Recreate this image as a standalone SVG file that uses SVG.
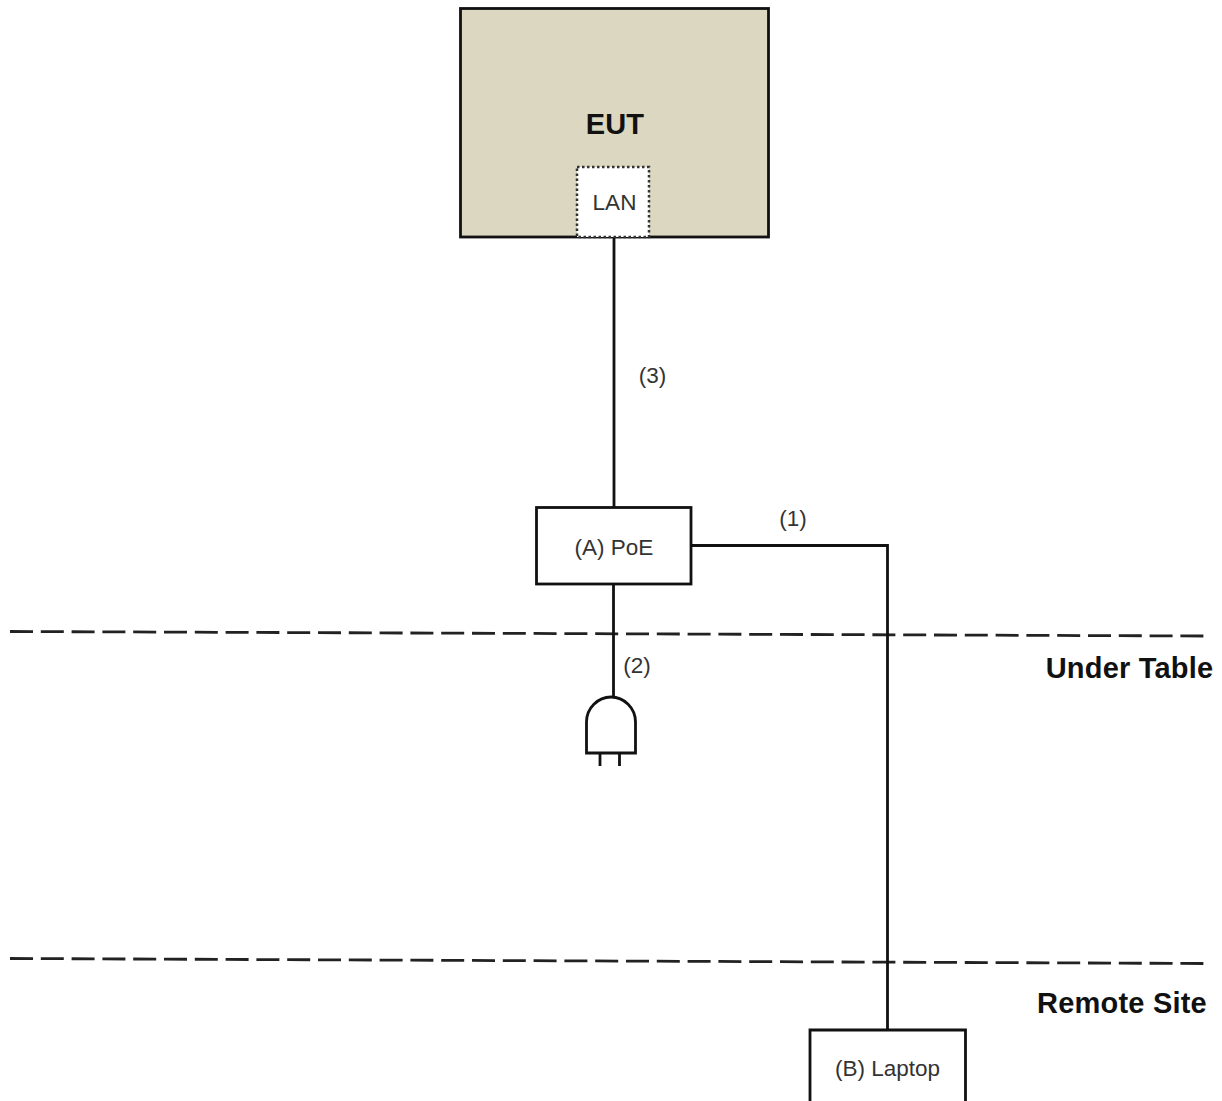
<svg xmlns="http://www.w3.org/2000/svg" width="1222" height="1101" viewBox="0 0 1222 1101">
<style>
text{font-family:"Liberation Sans",Arial,sans-serif;fill:#333;font-size:22.500px;text-anchor:middle}
.b{font-weight:bold;fill:#111;font-size:29px;letter-spacing:.2px}
.box{fill:#fff;stroke:#111;stroke-width:2.800}
.line{fill:none;stroke:#111;stroke-width:2.800}
.dash{fill:none;stroke:#222;stroke-width:2.800;stroke-dasharray:23 7.800}
</style>
<rect width="1222" height="1101" fill="#fff"/>
<g id="boundaries">
<path class="dash" d="M10 631.500L1206 636"/>
<path class="dash" d="M10 958.500L1206 963.500"/>
</g>
<g id="connectors">
<path class="line" d="M614 238V507"/>
<path class="line" d="M692 545.500H887.500V1030"/>
<path class="line" d="M613.500 584V697"/>
</g>
<g id="eut">
<rect x="460.500" y="8.500" width="308" height="228.500" fill="#dcd7c0" stroke="#111" stroke-width="2.800"/>
<text class="b" x="615" y="134">EUT</text>
</g>
<g id="lan">
<rect x="577" y="167" width="72" height="70" fill="#fff" stroke="#333" stroke-width="2.500" stroke-dasharray="2.500 2.500"/>
<text x="614.500" y="210">LAN</text>
</g>
<g id="poe">
<rect class="box" x="536.500" y="507.500" width="154.500" height="76.500"/>
<text x="614" y="555">(A) PoE</text>
</g>
<g id="plug">
<path class="line" d="M586.500 753V722C586.500 708 598 697 611 697C624 697 635.500 708 635.500 722V753Z"/>
<path class="line" d="M600 753V766M619.500 753V766"/>
</g>
<g id="laptop">
<path class="box" d="M810 1101V1030H965.500V1101"/>
<text x="887.500" y="1076">(B) Laptop</text>
</g>
<g id="labels">
<text x="652.500" y="383">(3)</text>
<text x="793" y="526">(1)</text>
<text x="637" y="673">(2)</text>
<text class="b" x="1129.500" y="678">Under Table</text>
<text class="b" x="1122" y="1013">Remote Site</text>
</g>
</svg>
